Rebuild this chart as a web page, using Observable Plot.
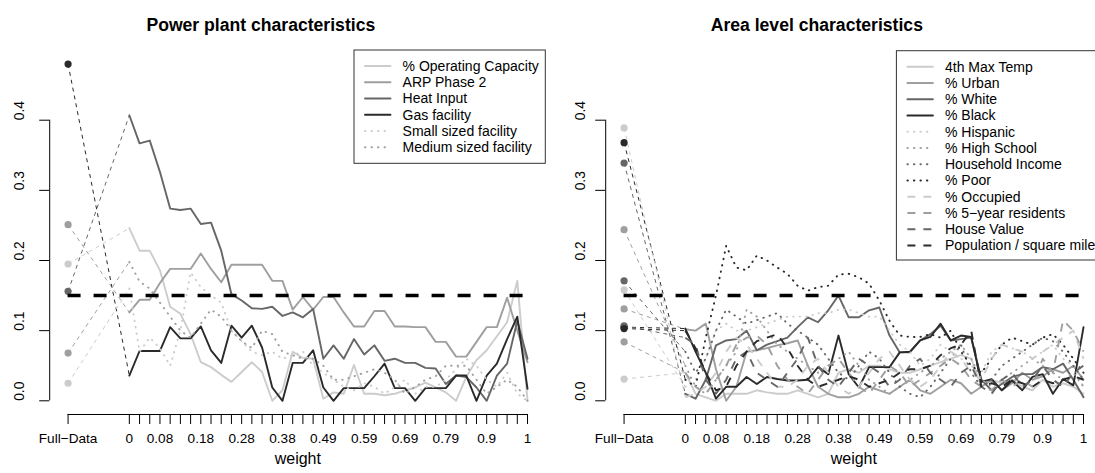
<!DOCTYPE html>
<html><head><meta charset="utf-8">
<script src="https://cdn.jsdelivr.net/npm/d3@7"></script>
<script src="https://cdn.jsdelivr.net/npm/@observablehq/plot@0.6"></script>
<style>
body{margin:0;background:#fff;}
#wrap{position:relative;width:1095px;height:473px;overflow:hidden;background:#fff;}
#wrap svg{position:absolute;top:0;}
</style></head><body><div id="wrap"></div>
<script>
// ---------- shared axis data ----------
const fullDataLabel = "Full−Data";
const fullDataPos = -6;              // slot of the Full-Data column on the index axis
const nWeights = 40;                 // weights 0 .. 1 in 40 steps
const weightTickLabels = ["0","0.08","0.18","0.28","0.38","0.49","0.59","0.69","0.79","0.9","1"];
const yTicks = [0, 0.1, 0.2, 0.3, 0.4];
const threshold = 0.15;
const xAxisTitle = "weight";

// ---------- Power plant characteristics ----------
const plantTitle = "Power plant characteristics";
const plantNames = ["% Operating Capacity","ARP Phase 2","Heat Input","Gas facility","Small sized facility","Medium sized facility"];
const plantFull = [0.195, 0.251, 0.156, 0.48, 0.025, 0.068];
const opCapacity = [0.246,0.214,0.214,0.186,0.134,0.124,0.095,0.055,0.048,0.037,0.027,0.041,0.055,0.041,0.0,0.015,0.07,0.061,0.06,0.003,0.012,0.01,0.051,0.01,0.01,0.008,0.01,0.015,0.019,0.026,0.019,0.012,0.0,0.034,0.058,0.072,0.092,0.112,0.171,0.0];
const arpPhase2 = [0.126,0.144,0.144,0.168,0.188,0.188,0.188,0.21,0.188,0.169,0.194,0.194,0.194,0.194,0.171,0.171,0.13,0.148,0.13,0.148,0.148,0.126,0.106,0.106,0.128,0.128,0.106,0.106,0.105,0.105,0.084,0.084,0.063,0.063,0.084,0.105,0.105,0.147,0.1,0.055];
const heatInput = [0.407,0.367,0.371,0.326,0.274,0.272,0.274,0.252,0.254,0.214,0.152,0.143,0.132,0.131,0.134,0.121,0.126,0.119,0.131,0.06,0.079,0.06,0.088,0.066,0.079,0.057,0.06,0.054,0.054,0.047,0.046,0.024,0.036,0.034,0.019,0.0,0.036,0.053,0.114,0.06];
const gasFacility = [0.036,0.071,0.071,0.071,0.105,0.089,0.089,0.106,0.072,0.054,0.107,0.09,0.107,0.076,0.019,0.0,0.054,0.054,0.072,0.019,0.0,0.018,0.018,0.018,0.035,0.053,0.018,0.018,0.0,0.018,0.018,0.018,0.036,0.036,0.0,0.036,0.053,0.088,0.12,0.017];
const smallFacility = [0.16,0.07,0.09,0.075,0.05,0.1,0.183,0.162,0.15,0.14,0.1,0.085,0.07,0.065,0.07,0.06,0.065,0.07,0.05,0.04,0.03,0.02,0.015,0.025,0.02,0.01,0.02,0.03,0.01,0.02,0.02,0.03,0.045,0.06,0.05,0.03,0.02,0.04,0.01,0.0];
const mediumFacility = [0.198,0.17,0.16,0.14,0.12,0.1,0.09,0.11,0.13,0.12,0.1,0.085,0.075,0.1,0.095,0.07,0.065,0.06,0.06,0.05,0.03,0.03,0.035,0.04,0.045,0.04,0.03,0.01,0.02,0.03,0.035,0.05,0.05,0.05,0.03,0.01,0.02,0.03,0.02,0.0];

// ---------- Area level characteristics ----------
const areaTitle = "Area level characteristics";
const areaNames = ["4th Max Temp","% Urban","% White","% Black","% Hispanic","% High School","Household Income","% Poor","% Occupied","% 5−year residents","House Value","Population / square mile"];
const areaFull = [0.031, 0.131, 0.339, 0.105, 0.158, 0.244, 0.171, 0.368, 0.389, 0.084, 0.107, 0.103];
const maxTemp = [0.04,0.01,0.005,0.0,0.01,0.01,0.01,0.015,0.012,0.01,0.01,0.015,0.01,0.005,0.01,0.04,0.045,0.04,0.05,0.05,0.045,0.04,0.04,0.045,0.05,0.055,0.06,0.065,0.06,0.02,0.03,0.025,0.03,0.02,0.015,0.03,0.02,0.025,0.02,0.01];
const pctUrban = [0.102,0.1,0.11,0.045,0.0,0.02,0.07,0.072,0.075,0.079,0.082,0.086,0.05,0.02,0.01,0.005,0.005,0.01,0.02,0.015,0.01,0.02,0.03,0.015,0.01,0.02,0.03,0.025,0.01,0.02,0.03,0.015,0.025,0.04,0.03,0.035,0.045,0.04,0.05,0.03];
const pctWhite = [0.01,0.003,0.03,0.079,0.086,0.088,0.1,0.072,0.08,0.085,0.09,0.105,0.119,0.112,0.129,0.15,0.119,0.119,0.129,0.133,0.093,0.069,0.069,0.086,0.095,0.107,0.086,0.088,0.09,0.03,0.015,0.024,0.034,0.038,0.038,0.048,0.045,0.053,0.03,0.005];
const pctBlack = [0.103,0.07,0.04,0.003,0.02,0.02,0.034,0.024,0.034,0.031,0.029,0.029,0.03,0.048,0.038,0.093,0.038,0.019,0.048,0.048,0.048,0.069,0.07,0.086,0.091,0.11,0.086,0.093,0.091,0.027,0.031,0.015,0.029,0.015,0.034,0.038,0.01,0.031,0.022,0.105];
const pctHispanic = [0.02,0.03,0.06,0.1,0.11,0.1,0.1,0.105,0.11,0.115,0.12,0.12,0.12,0.125,0.125,0.13,0.13,0.125,0.12,0.12,0.1,0.08,0.07,0.05,0.06,0.08,0.07,0.06,0.05,0.04,0.07,0.08,0.075,0.07,0.06,0.07,0.08,0.06,0.05,0.02];
const pctHighSchool = [0.05,0.02,0.01,0.03,0.05,0.07,0.13,0.12,0.1,0.08,0.07,0.06,0.05,0.04,0.05,0.06,0.07,0.05,0.03,0.02,0.01,0.02,0.03,0.04,0.05,0.06,0.07,0.08,0.06,0.03,0.02,0.03,0.04,0.05,0.06,0.05,0.04,0.03,0.04,0.02];
const hhIncome = [0.07,0.04,0.06,0.1,0.13,0.12,0.11,0.115,0.12,0.125,0.11,0.1,0.09,0.08,0.06,0.04,0.03,0.05,0.07,0.06,0.04,0.02,0.01,0.005,0.02,0.04,0.06,0.08,0.04,0.02,0.03,0.05,0.06,0.07,0.08,0.09,0.085,0.07,0.05,0.03];
const pctPoor = [0.03,0.02,0.09,0.15,0.221,0.19,0.186,0.207,0.2,0.19,0.181,0.164,0.157,0.162,0.164,0.18,0.181,0.176,0.167,0.143,0.114,0.093,0.091,0.091,0.095,0.09,0.1,0.07,0.05,0.04,0.06,0.08,0.09,0.085,0.08,0.09,0.095,0.08,0.06,0.04];
const pctOccupied = [0.005,0.01,0.02,0.04,0.07,0.09,0.08,0.06,0.04,0.02,0.02,0.03,0.05,0.06,0.04,0.02,0.01,0.02,0.04,0.06,0.07,0.05,0.03,0.02,0.03,0.05,0.07,0.06,0.04,0.03,0.06,0.08,0.075,0.07,0.06,0.07,0.08,0.09,0.1,0.06];
const pctFiveYear = [0.04,0.02,0.01,0.03,0.05,0.08,0.09,0.093,0.08,0.05,0.03,0.02,0.01,0.03,0.05,0.06,0.04,0.02,0.01,0.03,0.05,0.04,0.02,0.03,0.04,0.05,0.06,0.05,0.03,0.02,0.015,0.03,0.02,0.03,0.02,0.06,0.04,0.115,0.1,0.07];
const houseValue = [0.09,0.08,0.03,0.01,0.03,0.06,0.07,0.04,0.03,0.02,0.04,0.06,0.09,0.05,0.03,0.02,0.04,0.06,0.05,0.04,0.02,0.03,0.05,0.06,0.04,0.03,0.02,0.04,0.05,0.02,0.01,0.03,0.04,0.02,0.03,0.05,0.03,0.02,0.04,0.05];
const popDensity = [0.1,0.075,0.04,0.015,0.02,0.05,0.07,0.085,0.09,0.095,0.075,0.05,0.03,0.02,0.025,0.03,0.035,0.03,0.02,0.025,0.03,0.04,0.045,0.045,0.05,0.065,0.075,0.08,0.1,0.02,0.025,0.02,0.03,0.025,0.02,0.03,0.025,0.03,0.035,0.03];

// ---------- styles ----------
const grays = ["#cccccc", "#9f9f9f", "#666666", "#2a2a2a"];
const plantColors = [grays[0], grays[1], grays[2], grays[3], grays[0], grays[1]];
const plantLty = ["solid","solid","solid","solid","dotted","dotted"];
const areaColors = [0,1,2,3,0,1,2,3,0,1,2,3].map(i => grays[i]);
const areaLty = ["solid","solid","solid","solid","dotted","dotted","dotted","dotted","dashed","dashed","dashed","dashed"];
const dashOf = {solid: null, dotted: "0.5,6", dashed: "8,8"};
const capOf = {solid: "round", dotted: "round", dashed: "butt"};
const FONT = '"Liberation Sans", Arial, Helvetica, sans-serif';

const yLo = -0.01953;               // R-style gap between the zero line and the x axis
const xDom = [-7.8, 40.8];          // R-style 4% extension around [-6, 39]
const labelAt = new Map(weightTickLabels.map(l => [Math.round(+l * (nWeights - 1)), l]));
labelAt.set(fullDataPos, fullDataLabel);
const xTickPositions = [fullDataPos, ...d3.range(nWeights)];

function drawPanel(cfg) {
  const {title, names, full, series, colors, ltys, left, ylabDx, legend} = cfg;
  const marks = [];
  // axes
  marks.push(Plot.ruleX([xDom[0]], {y1: yTicks[0], y2: yTicks[yTicks.length - 1], stroke: "#000"}));
  marks.push(Plot.axisY({ticks: yTicks, tickSize: 10, tickFormat: () => "", label: null, stroke: "#000"}));
  marks.push(Plot.text(yTicks, {y: d => d, frameAnchor: "left", dx: ylabDx, rotate: -90, text: d => d3.format(".1f")(d), fontSize: 13.8, fill: "#000"}));
  marks.push(Plot.ruleY([yLo], {x1: fullDataPos, x2: nWeights - 1, stroke: "#000"}));
  marks.push(Plot.axisX({ticks: xTickPositions, tickSize: 10, tickPadding: 9, tickFormat: d => labelAt.get(d) ?? "", label: null, stroke: "#000", fill: "#000", fontSize: 13.6}));
  marks.push(Plot.text([xAxisTitle], {frameAnchor: "bottom", dy: 49, fontSize: 16, fill: "#000"}));
  marks.push(Plot.text([title], {frameAnchor: "top", dx: -37, dy: -102.1, fontSize: 17.6, fontWeight: "bold", fill: "#000"}));
  // connectors from Full-Data to first weight
  names.forEach((n, k) => {
    marks.push(Plot.link([{x1: fullDataPos, y1: full[k], x2: 0, y2: series[k][0]}],
      {x1: "x1", y1: "y1", x2: "x2", y2: "y2", stroke: colors[k], strokeWidth: 1, strokeDasharray: "4,4", strokeLinecap: "butt"}));
  });
  // series lines
  names.forEach((n, k) => {
    const pts = series[k].map((v, i) => ({x: i, y: v}));
    marks.push(Plot.line(pts, {x: "x", y: "y", stroke: colors[k], strokeWidth: 1.9,
      strokeDasharray: dashOf[ltys[k]], strokeLinecap: capOf[ltys[k]]}));
  });
  // Full-Data points
  names.forEach((n, k) => {
    marks.push(Plot.dot([{x: fullDataPos, y: full[k]}], {x: "x", y: "y", r: 3.6, fill: colors[k], stroke: "none"}));
  });
  // reference line
  marks.push(Plot.ruleY([threshold], {x1: fullDataPos, x2: nWeights - 1, stroke: "#000", strokeWidth: 3.4, strokeDasharray: "13,13", strokeLinecap: "butt"}));

  const svg = Plot.plot({
    width: 548, height: 473,
    marginLeft: 49.2, marginRight: 2.6, marginTop: 119.7, marginBottom: 59,
    x: {domain: xDom}, y: {domain: [yLo, yTicks[yTicks.length - 1]]},
    style: {fontFamily: FONT, fontSize: "13.6px", background: "#fff", color: "#000"},
    marks
  });
  svg.style.left = left + "px";
  // legend
  const g = d3.select(svg).append("g").attr("font-family", FONT).attr("font-size", 14).attr("text-anchor", "start");
  g.append("rect").attr("x", legend.x).attr("y", legend.y).attr("width", legend.w).attr("height", legend.h)
    .attr("fill", "#fff").attr("stroke", "#333").attr("stroke-width", 1);
  names.forEach((n, k) => {
    const cy = legend.y + 16 + k * 16.25;
    g.append("line").attr("x1", legend.x + 11).attr("x2", legend.x + 36.5).attr("y1", cy).attr("y2", cy)
      .attr("stroke", colors[k]).attr("stroke-width", 1.9)
      .attr("stroke-linecap", capOf[ltys[k]])
      .attr("stroke-dasharray", dashOf[ltys[k]]);
    g.append("text").attr("x", legend.x + 48.6).attr("y", cy).attr("dy", "0.35em")
      .attr("text-anchor", "start").attr("fill", "#000").text(n);
  });
  document.getElementById("wrap").appendChild(svg);
}

drawPanel({title: plantTitle, names: plantNames, full: plantFull,
  series: [opCapacity, arpPhase2, heatInput, gasFacility, smallFacility, mediumFacility],
  colors: plantColors, ltys: plantLty, left: 0, ylabDx: -30,
  legend: {x: 354, y: 50, w: 191.3, h: 113.3}});

drawPanel({title: areaTitle, names: areaNames, full: areaFull,
  series: [maxTemp, pctUrban, pctWhite, pctBlack, pctHispanic, pctHighSchool, hhIncome, pctPoor, pctOccupied, pctFiveYear, houseValue, popDensity],
  colors: areaColors, ltys: areaLty, left: 556.3, ylabDx: -24.7,
  legend: {x: 340.4, y: 50.7, w: 240, h: 209.3}});
</script></body></html>
